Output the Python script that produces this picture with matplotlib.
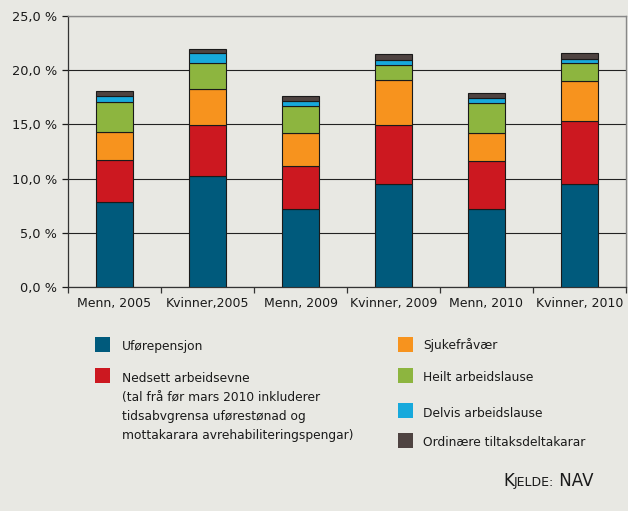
import numpy as np
import matplotlib.pyplot as plt
from matplotlib.patches import Rectangle
from matplotlib.ticker import FuncFormatter, MultipleLocator

groups = ['Menn, 2005', 'Kvinner,2005', 'Menn, 2009', 'Kvinner, 2009', 'Menn, 2010', 'Kvinner, 2010']
ufor = [7.8, 10.2, 7.2, 9.5, 7.2, 9.5]
nedsett = [3.9, 4.7, 3.95, 5.4, 4.4, 5.8]
sjuke = [2.6, 3.4, 3.05, 4.15, 2.65, 3.7]
heilt = [2.8, 2.4, 2.5, 1.45, 2.7, 1.65]
delvis = [0.5, 0.85, 0.45, 0.45, 0.45, 0.4]
ordin = [0.45, 0.4, 0.5, 0.5, 0.5, 0.55]

series = [ufor, nedsett, sjuke, heilt, delvis, ordin]
names = ['Uførepensjon',
         'Nedsett arbeidsevne\n(tal frå før mars 2010 inkluderer\ntidsabvgrensa uførestønad og\nmottakarara avrehabiliteringspengar)',
         'Sjukefråvær', 'Heilt arbeidslause', 'Delvis arbeidslause', 'Ordinære tiltaksdeltakarar']
colors = ['#005a7c', '#cc1820', '#f7931e', '#8db53f', '#17a9dc', '#4e4341']
bg = '#e8e8e3'

fig = plt.figure(figsize=(6.28, 5.11), dpi=100, facecolor=bg)
ax = fig.add_axes([0.1083, 0.4384, 0.8885, 0.5303])
ax.set_facecolor(bg)

x = np.arange(len(groups))
bottom = np.zeros(len(groups))
for vals, c in zip(series, colors):
    ax.bar(x, vals, 0.4, bottom=bottom, color=c, edgecolor='#1a1a1a', linewidth=0.8, zorder=3)
    bottom += np.array(vals)

ax.set_xlim(-0.5, len(groups) - 0.5)
ax.set_ylim(0, 25)
ax.yaxis.set_major_locator(MultipleLocator(5))
ax.yaxis.set_major_formatter(FuncFormatter(lambda v, p: f'{v:.1f} %'.replace('.', ',')))
ax.grid(axis='y', color='#222222', linewidth=0.8, zorder=0)

ax.set_xticks(x)
ax.set_xticklabels(groups)
ax.set_xticks(np.arange(len(groups) + 1) - 0.5, minor=True)
ax.tick_params(axis='x', which='major', length=0, pad=7, labelsize=9, colors='#1a1a1a')
ax.tick_params(axis='x', which='minor', length=4, width=0.9, color='#333333')
ax.tick_params(axis='y', length=4, width=0.9, pad=4, labelsize=9.3, colors='#1a1a1a')

for s in ['left', 'bottom']:
    ax.spines[s].set_color('#333333')
    ax.spines[s].set_linewidth(0.9)
for s in ['top', 'right']:
    ax.spines[s].set_color('#888888')
    ax.spines[s].set_linewidth(1.0)

# legend, hand placed
W, H = 628, 511
def sq(px, py, c):
    fig.patches.append(Rectangle((px / W, 1 - (py + 15) / H), 15 / W, 15 / H,
                                 transform=fig.transFigure, facecolor=c, edgecolor='none'))

lfont = dict(fontsize=8.8, color='#1a1a1a', va='center', ha='left')
left_items = [(0, 337, 346.5), (1, 368, 378)]
right_items = [(2, 337, 345), (3, 368, 377.5), (4, 403, 413), (5, 433, 442.5)]
for i, sy, ty in left_items:
    sq(95, sy, colors[i])
    lines = names[i].split('\n')
    for k, line in enumerate(lines):
        fig.text(122 / W, 1 - (ty + k * 19.3) / H, line, **lfont)
for i, sy, ty in right_items:
    sq(398, sy, colors[i])
    fig.text(423 / W, 1 - ty / H, names[i], **lfont)

t1 = fig.text(503 / W, 1 - 486 / H, 'K', fontsize=12, color='#1a1a1a', va='baseline')
t2 = fig.text(0, 0, 'JELDE:', fontsize=9, color='#1a1a1a', va='baseline')
t3 = fig.text(0, 0, ' NAV', fontsize=12, color='#1a1a1a', va='baseline')
fig.canvas.draw()
r = fig.canvas.get_renderer()
b1 = t1.get_window_extent(r)
t2.set_position((b1.x1 / fig.bbox.width, 1 - 486 / H))
b2 = t2.get_window_extent(r)
t3.set_position((b2.x1 / fig.bbox.width, 1 - 486 / H))

fig.savefig('out.png', dpi=100, facecolor=bg)
